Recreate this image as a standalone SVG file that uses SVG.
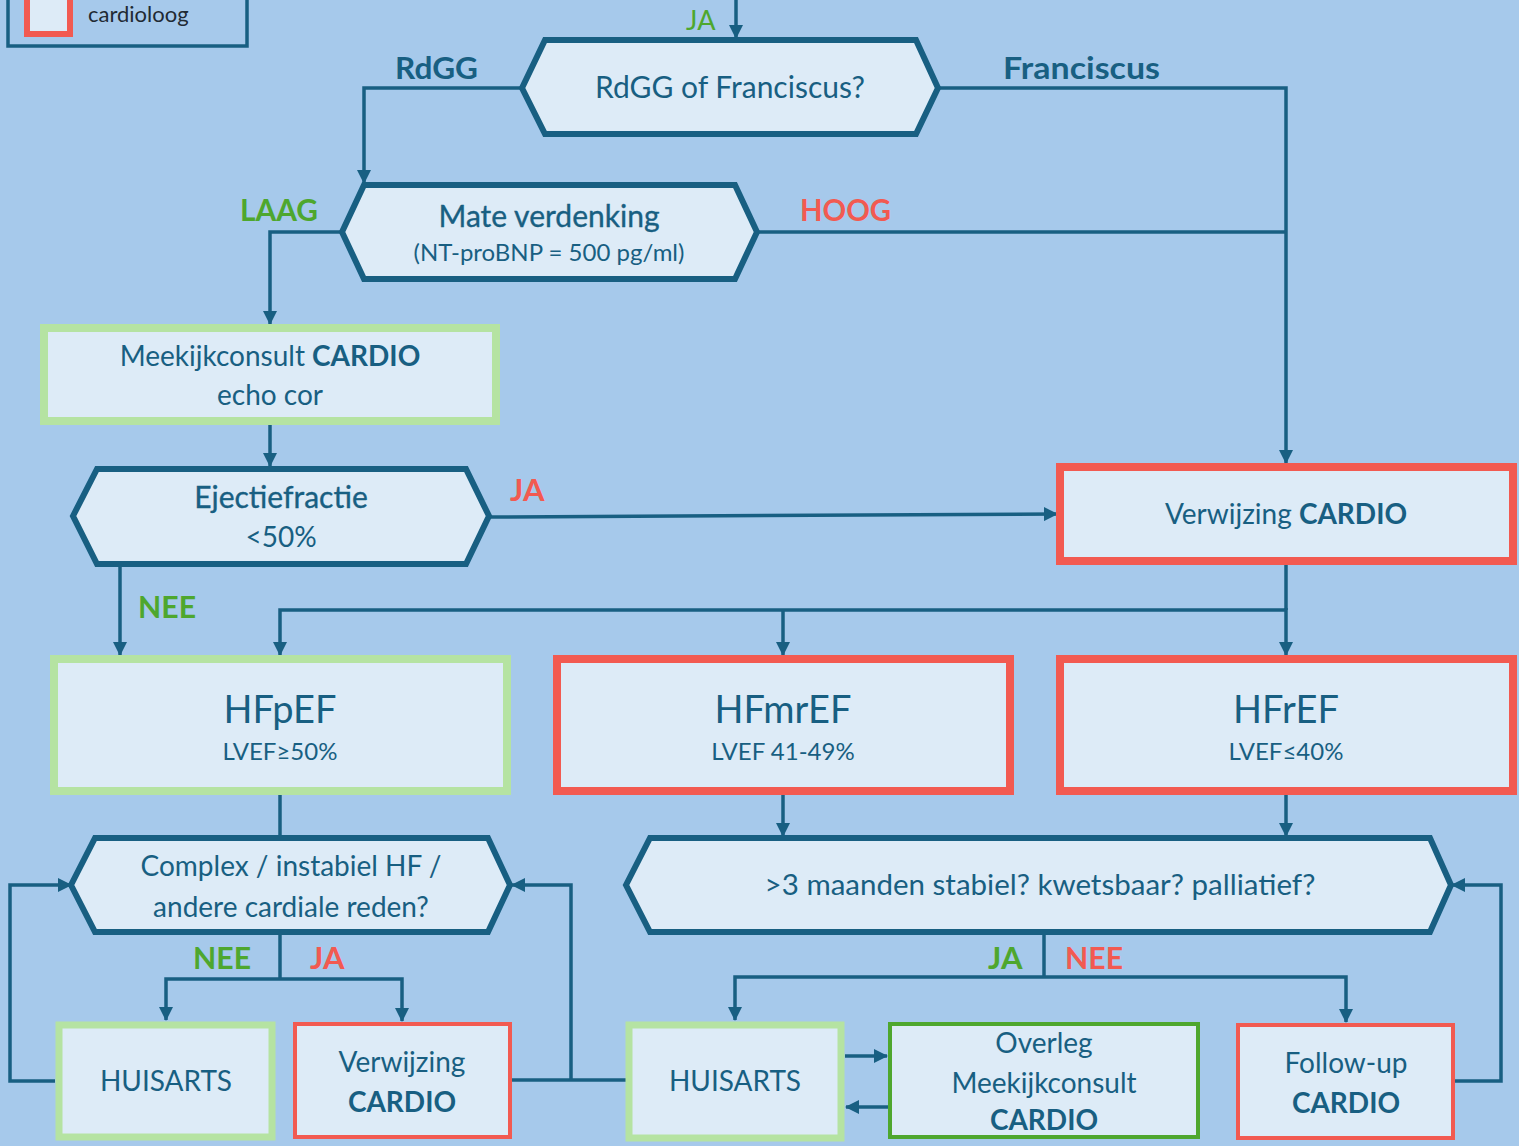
<svg xmlns="http://www.w3.org/2000/svg" width="1519" height="1146" viewBox="0 0 1519 1146">
<defs>
<style>
.bg{fill:#A6C9EB}
.hex{fill:#DDEBF7;stroke:#185F82;stroke-width:6;stroke-linejoin:miter}
.gbox{fill:#DDEBF7;stroke:#B5E3A2;stroke-width:8}
.rbox{fill:#DDEBF7;stroke:#F25A51;stroke-width:8}
.rthin{fill:#DDEBF7;stroke:#F25A51;stroke-width:4}
.gthin{fill:#DDEBF7;stroke:#4EA72E;stroke-width:4}
.gthick{fill:#DDEBF7;stroke:#B5E3A2;stroke-width:7}
.con{fill:none;stroke:#185F82;stroke-width:3.5}
.arr{fill:none;stroke:#185F82;stroke-width:3.5;marker-end:url(#ah)}
text{font-family:Lato,"Open Sans","Liberation Sans",sans-serif;fill:#185F82;text-anchor:middle}
.t{font-size:28px}
.s{font-size:24px}
.big{font-size:38px}
.b{font-weight:bold}
.med{stroke:#185F82;stroke-width:0.35}
.lab{font-size:31px;font-weight:bold;text-anchor:start}
.green{fill:#4EA72E}
.red{fill:#F25A51}
</style>
<marker id="ah" markerUnits="userSpaceOnUse" markerWidth="14" markerHeight="14" refX="13" refY="7" orient="auto">
<path d="M0,0 L14,7 L0,14 z" fill="#185F82"/>
</marker>
</defs>
<rect class="bg" x="0" y="0" width="1519" height="1146"/>

<g id="legend">
<rect x="8" y="-10" width="239" height="56" fill="none" stroke="#185F82" stroke-width="3.5"/>
<rect x="27" y="-10" width="43" height="44" fill="#DDEBF7" stroke="#F25A51" stroke-width="6"/>
<text x="88" y="22" style="font-size:22px;fill:#1f2a33;text-anchor:start">cardioloog</text>
</g>

<g id="connectors">
<line class="arr" x1="736" y1="0" x2="736" y2="38"/>
<text x="686" y="30" style="font-size:27px;text-anchor:start" class="green">JA</text>
<polyline class="arr" points="522,88 364,88 364,183"/>
<polyline class="arr" points="938,88 1286,88 1286,463"/>
<polyline class="arr" points="342,232 270,232 270,324"/>
<line class="con" x1="757" y1="232" x2="1286" y2="232"/>
<line class="arr" x1="270" y1="424" x2="270" y2="466"/>
<line class="arr" x1="489" y1="517" x2="1057" y2="514"/>
<line class="arr" x1="120" y1="564" x2="120" y2="655"/>
<line class="con" x1="1286" y1="564" x2="1286" y2="610"/>
<polyline class="arr" points="1286,608 1286,655"/>
<polyline class="arr" points="1286,610 280,610 280,655"/>
<line class="arr" x1="783" y1="610" x2="783" y2="655"/>
<line class="con" x1="280" y1="795" x2="280" y2="838"/>
<line class="arr" x1="783" y1="795" x2="783" y2="836"/>
<line class="arr" x1="1286" y1="795" x2="1286" y2="836"/>
<line class="con" x1="280" y1="932" x2="280" y2="979"/>
<polyline class="arr" points="280,979 166,979 166,1020"/>
<polyline class="arr" points="280,979 402,979 402,1021"/>
<polyline class="arr" points="55,1081 10,1081 10,885 71,885"/>
<line class="con" x1="512" y1="1080" x2="627" y2="1080"/>
<polyline class="arr" points="571,1080 571,885 512,885"/>
<line class="con" x1="1044" y1="932" x2="1044" y2="977"/>
<polyline class="arr" points="1044,977 735,977 735,1020"/>
<polyline class="arr" points="1044,977 1346,977 1346,1022"/>
<line class="arr" x1="845" y1="1056" x2="887" y2="1056"/>
<line class="arr" x1="888" y1="1107" x2="846" y2="1107"/>
<polyline class="arr" points="1455,1081 1501,1081 1501,885 1452,885"/>
</g>

<g id="labels">
<text x="395" y="79" class="lab" textLength="83" lengthAdjust="spacingAndGlyphs">RdGG</text>
<text x="1003" y="79" class="lab" textLength="157" lengthAdjust="spacingAndGlyphs">Franciscus</text>
<text x="240" y="221" class="lab green" textLength="78" lengthAdjust="spacingAndGlyphs">LAAG</text>
<text x="800" y="221" class="lab red" textLength="91" lengthAdjust="spacingAndGlyphs">HOOG</text>
<text x="510" y="501" class="lab red">JA</text>
<text x="138" y="618" class="lab green" textLength="58" lengthAdjust="spacingAndGlyphs">NEE</text>
<text x="193" y="969" class="lab green" textLength="58" lengthAdjust="spacingAndGlyphs">NEE</text>
<text x="310" y="969" class="lab red">JA</text>
<text x="988" y="969" class="lab green">JA</text>
<text x="1065" y="969" class="lab red" textLength="58" lengthAdjust="spacingAndGlyphs">NEE</text>
</g>

<g id="n-rdgg">
<polygon class="hex" points="522,88 545,40 916,40 938,88 916,134 545,134"/>
<text x="730" y="98" style="font-size:30px">RdGG of Franciscus?</text>
</g>

<g id="n-mate">
<polygon class="hex" points="342,232 364,185 735,185 757,232 735,279 364,279"/>
<text x="549" y="227" class="med" style="font-size:30px">Mate verdenking</text>
<text x="549" y="261" class="s">(NT-proBNP = 500 pg/ml)</text>
</g>

<g id="n-meekijk">
<rect class="gbox" x="44" y="328" width="452" height="93"/>
<text x="270" y="366" class="t">Meekijkconsult <tspan class="b">CARDIO</tspan></text>
<text x="270" y="405" class="t">echo cor</text>
</g>

<g id="n-ejectie">
<polygon class="hex" points="73,516 97,469 466,469 489,516 466,564 97,564"/>
<text x="281" y="508" class="med" style="font-size:30px">Ejectiefractie</text>
<text x="281" y="547" class="t">&lt;50%</text>
</g>

<g id="n-verwijzing">
<rect class="rbox" x="1060" y="467" width="453" height="94"/>
<text x="1286" y="524" class="t">Verwijzing <tspan class="b">CARDIO</tspan></text>
</g>

<g id="n-hfpef">
<rect class="gbox" x="54" y="659" width="453" height="132"/>
<text x="280" y="723" class="big">HFpEF</text>
<text x="280" y="760" class="s">LVEF≥50%</text>
</g>

<g id="n-hfmref">
<rect class="rbox" x="557" y="659" width="453" height="132"/>
<text x="783" y="723" class="big">HFmrEF</text>
<text x="783" y="760" class="s">LVEF 41-49%</text>
</g>

<g id="n-hfref">
<rect class="rbox" x="1060" y="659" width="453" height="132"/>
<text x="1286" y="723" class="big">HFrEF</text>
<text x="1286" y="760" class="s">LVEF≤40%</text>
</g>

<g id="n-complex">
<polygon class="hex" points="71,885 95,838 488,838 510,885 488,932 95,932"/>
<text x="291" y="876" class="t">Complex / instabiel HF /</text>
<text x="291" y="917" class="t">andere cardiale reden?</text>
</g>

<g id="n-stabiel">
<polygon class="hex" points="626,885 650,838 1430,838 1451,885 1430,932 650,932"/>
<text x="1040" y="895" style="font-size:29.5px">&gt;3 maanden stabiel? kwetsbaar? palliatief?</text>
</g>

<g id="n-huisarts1">
<rect class="gthick" x="59" y="1025" width="213" height="112"/>
<text x="166" y="1091" class="t">HUISARTS</text>
</g>

<g id="n-verwijzing2">
<rect class="rthin" x="295" y="1024" width="215" height="113"/>
<text x="402" y="1072" class="t">Verwijzing</text>
<text x="402" y="1112" class="t b">CARDIO</text>
</g>

<g id="n-huisarts2">
<rect class="gthick" x="629" y="1025" width="212" height="113"/>
<text x="735" y="1091" class="t">HUISARTS</text>
</g>

<g id="n-overleg">
<rect class="gthin" x="890" y="1024" width="308" height="113"/>
<text x="1044" y="1053" class="t">Overleg</text>
<text x="1044" y="1093" class="t">Meekijkconsult</text>
<text x="1044" y="1130" class="t b">CARDIO</text>
</g>

<g id="n-followup">
<rect class="rthin" x="1238" y="1025" width="215" height="113"/>
<text x="1346" y="1073" class="t">Follow-up</text>
<text x="1346" y="1113" class="t b">CARDIO</text>
</g>
</svg>
